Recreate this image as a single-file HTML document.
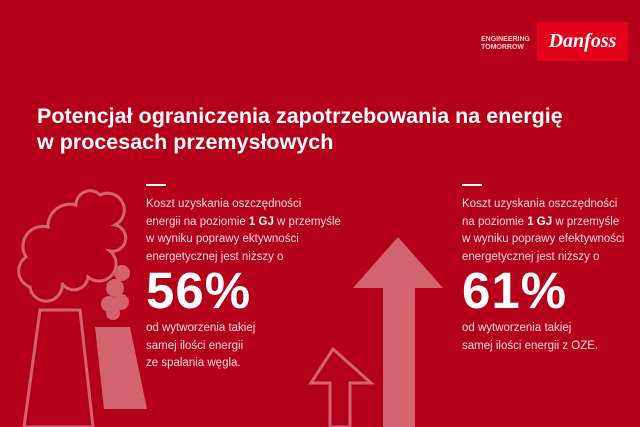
<!DOCTYPE html>
<html><head><meta charset="utf-8"><style>
body{margin:0;width:640px;height:427px;overflow:hidden;background:#b5001a;font-family:"Liberation Sans",sans-serif;color:#fff;position:relative}
.a{position:absolute}
.t{font-size:11.5px;line-height:17.5px;color:#f6dcdf;white-space:nowrap}
.big{font-size:51px;font-weight:bold;line-height:56px;letter-spacing:1px}
</style></head><body>
<svg class="a" style="left:0;top:0" width="640" height="427">
 <g fill="none" stroke="#d26470" stroke-width="3">
  <polygon points="40,310 80,310 93,427 24,427"/>
  <path d="M30,287 a17,17 0 0 1 -4,-30 a20,20 0 0 1 22,-30 a22,22 0 0 1 28,-22 a14,14 0 0 1 24,-10 a14,14 0 0 1 15,30 a12,12 0 0 1 -5,26 a14,14 0 0 1 -22,26 a14,14 0 0 1 -26,6 a14,14 0 0 1 -32,4 z"/>
  <polygon points="333,349 371,383 350,383 350,427 330,427 330,383 311,383"/>
 </g>
 <g fill="#d26470">
  <polygon points="95,327 130,327 147,409 104,409"/>
  <circle cx="122" cy="273" r="8"/><circle cx="115" cy="288" r="9"/><circle cx="121" cy="302" r="8"/><circle cx="109" cy="304" r="8"/><circle cx="113" cy="313" r="7"/>
  <polygon points="398,237 443,288 415,288 415,427 383,427 383,288 353,288"/>
 </g>
</svg>
<div class="a" style="left:481px;top:36px;font-size:7px;line-height:8px;font-weight:bold;color:#f2d0d4">ENGINEERING<br>TOMORROW</div>
<div class="a" style="left:537px;top:22px;width:91px;height:39px;background:#e2001a;font-family:'Liberation Serif',serif;font-style:italic;font-weight:bold;font-size:20px;line-height:39px;text-align:center">Danfoss</div>
<div class="a" style="left:37px;top:103px;font-size:21.5px;font-weight:bold;line-height:26px;white-space:nowrap">Potencjał ograniczenia zapotrzebowania na energię<br>w procesach przemysłowych</div>
<div class="a" style="left:146px;top:184px;width:20px;height:2px;background:#fff"></div>
<div class="a t" style="left:146px;top:196px">Koszt uzyskania oszczędności<br>energii na poziomie <b style="color:#fff">1 GJ</b> w przemyśle<br>w wyniku poprawy ektywności<br>energetycznej jest niższy o</div>
<div class="a big" style="left:146px;top:263px">56%</div>
<div class="a t" style="left:146px;top:320px">od wytworzenia takiej<br>samej ilości energii<br>ze spalania węgla.</div>
<div class="a" style="left:462px;top:184px;width:20px;height:2px;background:#fff"></div>
<div class="a t" style="left:462px;top:196px">Koszt uzyskania oszczędności<br>na poziomie <b style="color:#fff">1 GJ</b> w przemyśle<br>w wyniku poprawy efektywności<br>energetycznej jest niższy o</div>
<div class="a big" style="left:462px;top:263px">61%</div>
<div class="a t" style="left:462px;top:320px">od wytworzenia takiej<br>samej ilości energii z OZE.</div>
</body></html>
